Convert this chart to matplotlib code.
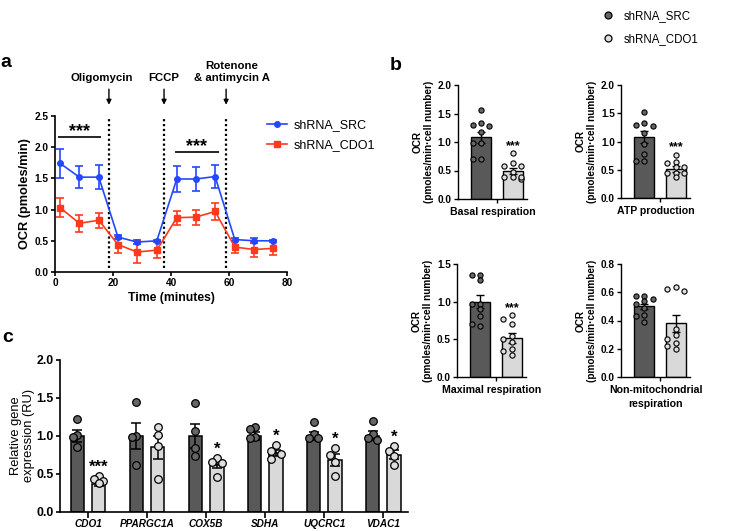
import numpy as np
import matplotlib
matplotlib.use("Agg")
import matplotlib.pyplot as plt
from matplotlib.lines import Line2D

plt.rcParams["font.family"] = ["Liberation Sans", "DejaVu Sans"]
plt.rcParams["font.weight"] = "bold"
plt.rcParams["axes.labelweight"] = "bold"

# ---- panel a: OCR time course ----
time_min = [1.8, 8.4, 15.1, 21.7, 28.3, 35.1, 42.0, 48.6, 55.2, 62.0, 68.7, 75.3]
src_mean = [1.74, 1.52, 1.52, 0.56, 0.48, 0.50, 1.49, 1.49, 1.53, 0.52, 0.50, 0.50]
src_err = [0.23, 0.18, 0.19, 0.03, 0.03, 0.02, 0.21, 0.19, 0.19, 0.03, 0.04, 0.02]
cdo_mean = [1.03, 0.78, 0.83, 0.44, 0.32, 0.35, 0.87, 0.88, 0.97, 0.40, 0.36, 0.38]
cdo_err = [0.15, 0.14, 0.12, 0.13, 0.17, 0.13, 0.11, 0.12, 0.13, 0.10, 0.12, 0.11]
injection_times = [18.6, 37.6, 59.0]
injection_labels = ["Oligomycin", "FCCP", "Rotenone\n& antimycin A"]
sig_spans = [(1.1, 15.8, 2.16), (41.3, 56.6, 1.93)]

# ---- panel b: OCR parameters (mean, sem, points) ----
b_titles = ["Basal respiration", "ATP production", "Maximal respiration",
            "Non-mitochondrial\nrespiration"]
b_ymax = [2.0, 2.0, 1.5, 0.8]
b_ystep = [0.5, 0.5, 0.5, 0.2]
b_src_mean = [1.08, 1.08, 1.00, 0.50]
b_src_sem = [0.10, 0.10, 0.09, 0.02]
b_cdo_mean = [0.49, 0.51, 0.52, 0.38]
b_cdo_sem = [0.05, 0.05, 0.07, 0.06]
basal_src = [1.57, 1.33, 1.30, 1.28, 1.17, 0.98, 0.98, 0.70, 0.70]
basal_cdo = [0.80, 0.63, 0.58, 0.58, 0.48, 0.38, 0.38, 0.35, 0.38]
atp_src = [1.53, 1.33, 1.30, 1.28, 1.15, 0.95, 0.78, 0.66, 0.66]
atp_cdo = [0.76, 0.64, 0.62, 0.55, 0.55, 0.45, 0.44, 0.44, 0.38]
max_src = [1.36, 1.29, 1.35, 0.97, 0.97, 0.90, 0.81, 0.68, 0.70]
max_cdo = [0.82, 0.77, 0.70, 0.55, 0.50, 0.46, 0.37, 0.35, 0.29]
nonmito_src = [0.57, 0.57, 0.55, 0.54, 0.52, 0.49, 0.44, 0.43, 0.39]
nonmito_cdo = [0.64, 0.62, 0.61, 0.34, 0.30, 0.27, 0.24, 0.22, 0.20]
b_sig = ["***", "***", "***", ""]

# ---- panel c: gene expression ----
genes = ["CDO1", "PPARGC1A", "COX5B", "SDHA", "UQCRC1", "VDAC1"]
c_src_mean = [1.00, 1.00, 1.00, 1.00, 1.00, 1.00]
c_src_sem = [0.08, 0.17, 0.16, 0.05, 0.05, 0.06]
c_cdo_mean = [0.37, 0.85, 0.62, 0.77, 0.68, 0.75]
c_cdo_sem = [0.03, 0.15, 0.05, 0.04, 0.08, 0.06]
c_src_pts = [[1.22, 1.01, 0.98, 0.85], [1.44, 1.00, 0.98, 0.62],
             [1.43, 1.06, 0.84, 0.73], [1.12, 1.09, 0.98, 0.97],
             [1.18, 1.03, 0.97, 0.97], [1.19, 1.03, 0.97, 0.95]]
c_cdo_pts = [[0.47, 0.43, 0.40, 0.38], [1.12, 1.01, 0.87, 0.43],
             [0.71, 0.65, 0.64, 0.46], [0.88, 0.80, 0.76, 0.70],
             [0.84, 0.75, 0.65, 0.47], [0.87, 0.80, 0.73, 0.62]]
c_sig = ["***", "", "*", "*", "*", "*"]

DARK, LIGHT = "#595959", "#d9d9d9"
DARK_PT, LIGHT_PT = "#666666", "#dedede"
BLUE, RED = "#2448ff", "#ff3a1c"

W, H = 733, 531
fig = plt.figure(figsize=(W / 100, H / 100), dpi=100)


def box(l, r, b, t):
    return [l / W, 1 - b / H, (r - l) / W, (b - t) / H]


def style(ax, lw=1.2, size=7.3):
    for s in ("top", "right"):
        ax.spines[s].set_visible(False)
    for s in ("left", "bottom"):
        ax.spines[s].set_linewidth(lw)
    ax.tick_params(width=lw, length=3, labelsize=size, pad=1.5)


def swarm_x(ax, xc, vals, diam, step, kmax=1):
    # simple beeswarm: shift points sideways (in pixels) to limit overlap
    placed, out = [], []
    ks = [0]
    for k in range(1, kmax + 1):
        ks += [-k, k]
    for v in vals:
        base = ax.transData.transform((xc, v))
        best, best_d = None, -1.0
        for k in ks:
            p = np.array([base[0] + k * step, base[1]])
            d = min((np.hypot(*(p - q)) for q in placed), default=np.inf)
            if d >= diam:
                best = p
                break
            if d > best_d:
                best, best_d = p, d
        placed.append(best)
        out.append(ax.transData.inverted().transform(best)[0])
    return out


# ---------------- panel a ----------------
ax = fig.add_axes(box(55, 287, 272, 116))
style(ax, lw=1.2, size=7.3)
ax.set_xlim(0, 80)
ax.set_ylim(0, 2.5)
ax.set_xticks([0, 20, 40, 60, 80])
ax.set_yticks(np.arange(0, 2.51, 0.5))
ax.yaxis.set_major_formatter(matplotlib.ticker.FormatStrFormatter("%.1f"))
ax.errorbar(time_min, src_mean, yerr=src_err, color=BLUE, marker="o", ms=4,
            lw=1.2, capsize=3, elinewidth=1.2, capthick=1.2,
            clip_on=False, zorder=3)
ax.errorbar(time_min, cdo_mean, yerr=cdo_err, color=RED, marker="s", ms=4,
            lw=1.2, capsize=3, elinewidth=1.2, capthick=1.2,
            clip_on=False, zorder=3)
label_dx = [-2.5, 0.0, 2.0]
for t, lab, dx in zip(injection_times, injection_labels, label_dx):
    ax.vlines(t, 0.06, 2.48, colors="black", linestyles=(0, (1, 1.2)), lw=1.6,
              clip_on=False)
    ax.annotate("", xy=(t, 2.68), xytext=(t, 2.93), annotation_clip=False,
                arrowprops=dict(arrowstyle="-|>", color="black", lw=1.0,
                                mutation_scale=7, shrinkA=0, shrinkB=0))
    ax.text(t + dx, 3.03, lab, ha="center", va="bottom", fontsize=8.2,
            fontweight="bold", linespacing=1.3, clip_on=False)
for x0, x1, y in sig_spans:
    ax.hlines(y, x0, x1, colors="black", lw=1.2, clip_on=False)
    ax.text((x0 + x1) / 2, y + 0.01, "***", ha="center", va="baseline",
            fontsize=13, fontweight="bold")
ax.set_xlabel("Time (minutes)", fontsize=8.8, labelpad=3)
ax.set_ylabel("OCR (pmoles/min)", fontsize=9.2, labelpad=3)
a_handles = [Line2D([], [], color=BLUE, marker="o", ms=4, lw=1.2),
             Line2D([], [], color=RED, marker="s", ms=4, lw=1.2)]
ax.legend(a_handles, ["shRNA_SRC", "shRNA_CDO1"], loc="center left",
          bbox_to_anchor=(267 / W, 1 - 135.5 / H),
          bbox_transform=fig.transFigure, frameon=False,
          prop={"weight": "normal", "size": 9}, borderpad=0, borderaxespad=0,
          handlelength=1.6, handletextpad=0.5, labelspacing=0.65)
fig.text(0 / W, 1 - 67 / H, "a", fontsize=14, fontweight="bold", va="baseline")

# ---------------- panel b ----------------
b_boxes = [(458, 527, 199, 85), (621, 690, 198, 85),
           (457, 526, 377, 264), (621, 690, 377, 264)]
b_points = [(basal_src, basal_cdo), (atp_src, atp_cdo),
            (max_src, max_cdo), (nonmito_src, nonmito_cdo)]
for i, (l, r, bt, tp) in enumerate(b_boxes):
    ax = fig.add_axes(box(l, r, bt, tp))
    style(ax, lw=1.0, size=7.2)
    ax.set_xlim(-0.72, 1.44)
    ax.set_ylim(0, b_ymax[i])
    ax.set_yticks(np.arange(0, b_ymax[i] + 1e-9, b_ystep[i]))
    ax.yaxis.set_major_formatter(matplotlib.ticker.FormatStrFormatter("%.1f"))
    ax.set_xticks([0.5])
    ax.set_xticklabels([""])
    means = [b_src_mean[i], b_cdo_mean[i]]
    sems = [b_src_sem[i], b_cdo_sem[i]]
    ax.bar([0, 1], means, width=0.63, color=[DARK, LIGHT], edgecolor="black",
           linewidth=1.0, zorder=2)
    ax.errorbar([0, 1], means, yerr=sems, fmt="none", ecolor="black",
                elinewidth=1.0, capsize=3, capthick=1.0, zorder=3)
    for x, pts, fc in ((0, b_points[i][0], DARK_PT), (1, b_points[i][1], LIGHT_PT)):
        xs = swarm_x(ax, x, pts, diam=5.2, step=8.5, kmax=1)
        ax.scatter(xs, pts, s=14, facecolor=fc, edgecolor="black",
                   linewidth=0.8, zorder=4, clip_on=False)
    if b_sig[i]:
        ax.text(1, max(b_points[i][1]) + 0.04 * b_ymax[i], b_sig[i],
                ha="center", va="baseline", fontsize=9, fontweight="bold")
    ax.set_xlabel(b_titles[i], fontsize=7.6, labelpad=1, linespacing=1.5)
    ax.set_ylabel("OCR\n(pmoles/min\u00b7cell number)", fontsize=7.2,
                  labelpad=3, linespacing=1.1)
fig.text(390 / W, 1 - 70 / H, "b", fontsize=14, fontweight="bold", va="baseline")

b_handles = [Line2D([], [], ls="none", marker="o", ms=5, mfc=DARK_PT,
                    mec="black", mew=0.9),
             Line2D([], [], ls="none", marker="o", ms=5, mfc=LIGHT_PT,
                    mec="black", mew=0.9)]
fig.legend(b_handles, ["shRNA_SRC", "shRNA_CDO1"], loc="upper left",
           bbox_to_anchor=(595 / W, 1 - 4 / H), frameon=False,
           prop={"weight": "normal", "size": 8.3}, borderpad=0,
           handlelength=1.2, handletextpad=0.8, labelspacing=1.0)

# ---------------- panel c ----------------
ax = fig.add_axes(box(60, 408, 511.7, 360))
style(ax, lw=1.2, size=8.8)
ax.set_xlim(-0.475, 5.42)
ax.set_ylim(0, 2.0)
ax.set_yticks(np.arange(0, 2.01, 0.5))
ax.yaxis.set_major_formatter(matplotlib.ticker.FormatStrFormatter("%.1f"))
xg = np.arange(len(genes))
ax.set_xticks(xg)
ax.set_xticklabels(genes, fontstyle="italic", fontweight="bold", fontsize=7.2)
ax.tick_params(axis="x", length=4)
off, bw = 0.18, 0.23
ax.bar(xg - off, c_src_mean, width=bw, color=DARK, edgecolor="black",
       linewidth=1.1, zorder=2)
ax.bar(xg + off, c_cdo_mean, width=bw, color=LIGHT, edgecolor="black",
       linewidth=1.1, zorder=2)
ax.errorbar(xg - off, c_src_mean, yerr=c_src_sem, fmt="none", ecolor="black",
            elinewidth=1.1, capsize=3.5, capthick=1.1, zorder=3)
ax.errorbar(xg + off, c_cdo_mean, yerr=c_cdo_sem, fmt="none", ecolor="black",
            elinewidth=1.1, capsize=3.5, capthick=1.1, zorder=3)
for g in range(len(genes)):
    for x, pts, fc in ((g - off, c_src_pts[g], DARK_PT),
                       (g + off, c_cdo_pts[g], LIGHT_PT)):
        xs = swarm_x(ax, x, pts, diam=7.0, step=4.8, kmax=1)
        ax.scatter(xs, pts, s=30, facecolor=fc, edgecolor="black",
                   linewidth=0.9, zorder=4)
    if c_sig[g]:
        ax.text(g + off, max(c_cdo_pts[g]) + 0.05, c_sig[g], ha="center",
                va="baseline", fontsize=12, fontweight="bold")
ax.set_ylabel("Relative gene\nexpression (RU)", fontsize=9.3,
              fontweight="normal", labelpad=1, linespacing=1.1)
fig.text(2 / W, 1 - 342 / H, "c", fontsize=14, fontweight="bold", va="baseline")

fig.savefig("out.png", dpi=100)
